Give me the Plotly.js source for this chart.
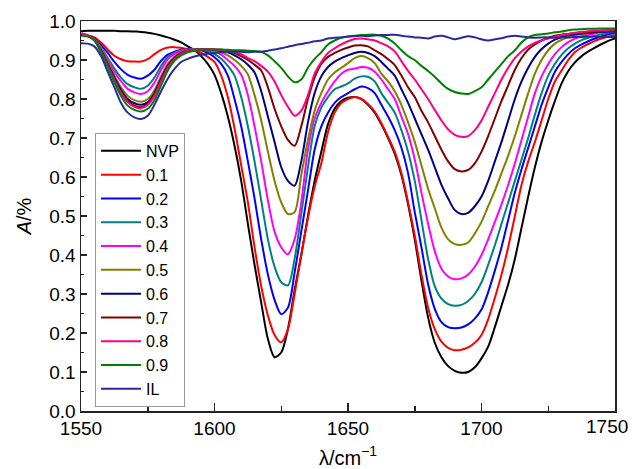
<!DOCTYPE html>
<html>
<head>
<meta charset="utf-8">
<script src="https://cdn.plot.ly/plotly-3.0.1.min.js"></script>
<style>html,body{margin:0;padding:0;background:#fff;}#chart{width:632px;height:469px;}</style>
</head>
<body>
<div id="chart"></div>
<script>
var wavenumber = [
1550,1552.5,1555,1557.5,1560,1562.5,1565,1567.5,1570,1572.5,
1575,1577.5,1580,1582.5,1585,1587.5,1590,1592.5,1595,1597.5,
1600,1602.5,1605,1607.5,1610,1612.5,1615,1617.5,1620,1622.5,
1625,1627.5,1630,1632.5,1635,1637.5,1640,1642.5,1645,1647.5,
1650,1652.5,1655,1657.5,1660,1662.5,1665,1667.5,1670,1672.5,
1675,1677.5,1680,1682.5,1685,1687.5,1690,1692.5,1695,1697.5,
1700,1702.5,1705,1707.5,1710,1712.5,1715,1717.5,1720,1722.5,
1725,1727.5,1730,1732.5,1735,1737.5,1740,1742.5,1745,1747.5,
1750];

var xTickVals = [1550, 1600, 1650, 1700];
var xTickText = ["1550", "1600", "1650", "1700"];
var xLastTick = 1750;

var seriesNames = ["NVP","0.1","0.2","0.3","0.4","0.5","0.6","0.7","0.8","0.9","IL"];
var seriesColors = ["#000000","#ff0000","#0000ff","#008080","#ff00ff","#808000","#000080","#800000","#ff0080","#008000","#2a2aa0"];

var aNVP = [
0.974,0.975,0.975,0.975,0.975,0.975,0.974,0.974,0.973,0.972,
0.970,0.967,0.963,0.958,0.952,0.945,0.935,0.925,0.910,0.890,
0.862,0.815,0.755,0.680,0.590,0.480,0.375,0.278,0.185,0.138,
0.150,0.210,0.310,0.400,0.500,0.590,0.665,0.735,0.775,0.795,
0.803,0.805,0.800,0.785,0.765,0.735,0.700,0.660,0.605,0.530,
0.440,0.335,0.240,0.175,0.138,0.115,0.103,0.098,0.100,0.112,
0.135,0.165,0.215,0.270,0.325,0.390,0.470,0.550,0.625,0.690,
0.745,0.795,0.840,0.872,0.894,0.910,0.922,0.932,0.941,0.949,
0.955];
var a01 = [
0.966,0.963,0.958,0.945,0.927,0.911,0.902,0.897,0.896,0.896,
0.902,0.915,0.926,0.932,0.933,0.931,0.928,0.925,0.918,0.908,
0.895,0.860,0.805,0.725,0.630,0.535,0.420,0.320,0.245,0.195,
0.176,0.210,0.300,0.400,0.495,0.575,0.635,0.715,0.765,0.790,
0.800,0.805,0.800,0.787,0.768,0.738,0.703,0.665,0.610,0.535,
0.450,0.350,0.265,0.210,0.178,0.162,0.156,0.157,0.163,0.175,
0.195,0.235,0.290,0.350,0.420,0.500,0.580,0.640,0.690,0.745,
0.800,0.845,0.873,0.900,0.920,0.932,0.941,0.949,0.955,0.960,
0.964];
var a02 = [
0.966,0.962,0.955,0.938,0.918,0.895,0.876,0.862,0.855,0.852,
0.860,0.875,0.898,0.914,0.921,0.926,0.927,0.927,0.925,0.918,
0.907,0.890,0.860,0.800,0.730,0.640,0.545,0.440,0.350,0.285,
0.248,0.265,0.355,0.460,0.565,0.670,0.730,0.765,0.790,0.805,
0.815,0.825,0.832,0.828,0.815,0.785,0.755,0.720,0.675,0.610,
0.510,0.420,0.325,0.262,0.228,0.215,0.212,0.214,0.222,0.237,
0.260,0.305,0.360,0.420,0.490,0.560,0.620,0.675,0.730,0.785,
0.830,0.870,0.895,0.915,0.930,0.940,0.948,0.955,0.961,0.966,
0.970];
var a03 = [
0.966,0.962,0.953,0.932,0.905,0.878,0.855,0.838,0.830,0.826,
0.834,0.855,0.885,0.908,0.918,0.925,0.927,0.927,0.926,0.923,
0.915,0.903,0.885,0.860,0.805,0.730,0.640,0.540,0.440,0.370,
0.330,0.322,0.390,0.505,0.625,0.730,0.778,0.805,0.825,0.832,
0.840,0.852,0.858,0.857,0.845,0.815,0.790,0.765,0.720,0.665,
0.590,0.490,0.390,0.320,0.288,0.274,0.270,0.272,0.282,0.300,
0.330,0.375,0.425,0.480,0.535,0.590,0.645,0.700,0.760,0.815,
0.860,0.890,0.913,0.930,0.942,0.951,0.957,0.962,0.966,0.970,
0.973];
var a04 = [
0.967,0.962,0.952,0.930,0.900,0.870,0.845,0.826,0.817,0.813,
0.820,0.842,0.875,0.902,0.915,0.923,0.926,0.927,0.927,0.926,
0.922,0.914,0.900,0.885,0.862,0.810,0.730,0.640,0.540,0.460,
0.420,0.402,0.440,0.535,0.670,0.750,0.790,0.820,0.845,0.865,
0.875,0.878,0.882,0.880,0.870,0.850,0.825,0.800,0.755,0.710,
0.645,0.560,0.480,0.410,0.365,0.345,0.338,0.340,0.350,0.370,
0.400,0.440,0.485,0.530,0.580,0.635,0.695,0.755,0.815,0.858,
0.890,0.915,0.933,0.946,0.955,0.961,0.965,0.968,0.971,0.973,
0.975];
var a05 = [
0.967,0.962,0.952,0.928,0.895,0.860,0.830,0.808,0.797,0.793,
0.800,0.822,0.858,0.890,0.908,0.920,0.925,0.927,0.927,0.927,
0.925,0.920,0.912,0.900,0.885,0.863,0.810,0.745,0.665,0.590,
0.535,0.505,0.510,0.605,0.695,0.770,0.815,0.850,0.868,0.880,
0.892,0.905,0.910,0.905,0.892,0.865,0.845,0.820,0.785,0.740,
0.690,0.630,0.570,0.520,0.470,0.440,0.428,0.426,0.432,0.455,
0.485,0.525,0.565,0.610,0.655,0.705,0.760,0.815,0.865,0.900,
0.925,0.942,0.952,0.958,0.963,0.966,0.969,0.972,0.974,0.976,
0.977];
var a06 = [
0.967,0.962,0.951,0.925,0.890,0.855,0.823,0.800,0.789,0.785,
0.792,0.815,0.852,0.885,0.905,0.918,0.924,0.926,0.927,0.927,
0.926,0.924,0.920,0.912,0.902,0.888,0.868,0.820,0.755,0.690,
0.625,0.590,0.578,0.640,0.740,0.815,0.858,0.882,0.896,0.905,
0.912,0.918,0.921,0.918,0.910,0.895,0.878,0.860,0.825,0.790,
0.750,0.710,0.670,0.625,0.580,0.545,0.515,0.505,0.508,0.525,
0.550,0.590,0.640,0.690,0.745,0.800,0.845,0.880,0.908,0.928,
0.942,0.952,0.959,0.963,0.966,0.968,0.970,0.971,0.972,0.973,
0.974];
var a07 = [
0.968,0.963,0.951,0.923,0.887,0.850,0.818,0.795,0.783,0.779,
0.787,0.810,0.848,0.882,0.903,0.917,0.924,0.926,0.927,0.927,
0.927,0.926,0.923,0.918,0.910,0.900,0.888,0.873,0.830,0.775,
0.730,0.695,0.680,0.730,0.800,0.855,0.890,0.908,0.918,0.926,
0.932,0.937,0.938,0.935,0.925,0.915,0.902,0.887,0.860,0.830,
0.805,0.770,0.740,0.705,0.670,0.640,0.620,0.614,0.618,0.635,
0.665,0.705,0.750,0.795,0.835,0.875,0.905,0.927,0.940,0.950,
0.957,0.962,0.965,0.967,0.969,0.971,0.972,0.973,0.974,0.975,
0.976];
var a08 = [
0.968,0.963,0.951,0.922,0.885,0.848,0.815,0.792,0.780,0.776,
0.785,0.808,0.846,0.880,0.902,0.916,0.923,0.926,0.927,0.927,
0.927,0.926,0.924,0.920,0.915,0.905,0.897,0.885,0.870,0.845,
0.810,0.780,0.757,0.770,0.810,0.865,0.895,0.918,0.930,0.940,
0.948,0.954,0.955,0.953,0.950,0.943,0.935,0.922,0.897,0.872,
0.850,0.825,0.800,0.772,0.745,0.722,0.708,0.703,0.705,0.720,
0.745,0.780,0.815,0.850,0.880,0.905,0.922,0.935,0.944,0.950,
0.955,0.960,0.964,0.967,0.970,0.972,0.974,0.975,0.976,0.977,
0.978];
var a09 = [
0.962,0.960,0.950,0.920,0.882,0.843,0.808,0.783,0.772,0.768,
0.775,0.797,0.835,0.873,0.898,0.912,0.920,0.924,0.926,0.927,
0.927,0.927,0.926,0.925,0.925,0.924,0.923,0.921,0.912,0.897,
0.880,0.858,0.843,0.850,0.880,0.903,0.920,0.940,0.950,0.957,
0.960,0.962,0.964,0.965,0.965,0.962,0.955,0.942,0.925,0.910,
0.900,0.885,0.872,0.857,0.840,0.826,0.818,0.814,0.813,0.820,
0.830,0.850,0.870,0.890,0.910,0.925,0.945,0.958,0.964,0.966,
0.968,0.971,0.973,0.976,0.978,0.979,0.980,0.980,0.981,0.981,
0.981];
var aIL = [
0.943,0.942,0.935,0.910,0.870,0.830,0.790,0.765,0.753,0.749,
0.757,0.785,0.820,0.852,0.877,0.895,0.903,0.909,0.913,0.916,
0.918,0.920,0.921,0.921,0.921,0.920,0.921,0.921,0.924,0.927,
0.930,0.934,0.938,0.941,0.944,0.948,0.950,0.955,0.957,0.958,
0.960,0.961,0.962,0.961,0.963,0.964,0.964,0.965,0.962,0.960,
0.958,0.957,0.955,0.960,0.962,0.958,0.953,0.957,0.961,0.958,
0.953,0.950,0.953,0.956,0.960,0.962,0.960,0.958,0.957,0.958,
0.958,0.957,0.958,0.958,0.959,0.959,0.960,0.960,0.959,0.959,
0.959];

var seriesValues = [aNVP,a01,a02,a03,a04,a05,a06,a07,a08,a09,aIL];

var traces = seriesValues.map(function(v,i){
  return {
    x: wavenumber, y: v, name: seriesNames[i], type: 'scatter', mode: 'lines',
    line: {color: seriesColors[i], width: 2, shape: 'spline', smoothing: 0.8}
  };
});

var fam = 'Liberation Sans, Arial, Helvetica, sans-serif';
var tickFont = {family: fam, size: 19, color: '#000'};

var layout = {
  width: 632, height: 469,
  margin: {l: 81, r: 17, t: 21, b: 58},
  paper_bgcolor: '#fff', plot_bgcolor: '#fff',
  showlegend: true,
  legend: {
    x: 0.0262, y: 0.713, xanchor: 'left', yanchor: 'top',
    bgcolor: '#fff', bordercolor: '#999', borderwidth: 1,
    font: {family: fam, size: 16, color: '#000'},
    itemwidth: 40, tracegroupgap: 0
  },
  xaxis: {
    range: [1550, 1750], tickmode: 'array', tickvals: xTickVals, ticktext: xTickText,
    ticks: 'inside', ticklen: 8, tickwidth: 1.5, tickcolor: '#222',
    minor: {tickmode: 'linear', tick0: 1550, dtick: 25, ticks: 'inside', ticklen: 5, tickwidth: 1.5, tickcolor: '#222'},
    showline: true, linecolor: '#222', linewidth: 1.5, mirror: true,
    showgrid: false, zeroline: false,
    tickfont: tickFont,
    title: {text: 'λ/cm<sup>−1</sup>', font: {family: fam, size: 20, color: '#000'}, standoff: 12}
  },
  yaxis: {
    range: [0, 1.0], tick0: 0, dtick: 0.1, tickformat: '.1f',
    ticks: 'inside', ticklen: 6, tickwidth: 1.5, tickcolor: '#222',
    minor: {dtick: 0.05, ticks: 'inside', ticklen: 3, tickwidth: 1.5, tickcolor: '#222'},
    showline: true, linecolor: '#222', linewidth: 1.5, mirror: true,
    showgrid: false, zeroline: false,
    tickfont: tickFont,
    title: {text: '<i>A</i>/%', font: {family: fam, size: 20, color: '#000'}, standoff: 12}
  },
  annotations: [{
    x: xLastTick, y: 0, xref: 'x', yref: 'y', text: String(xLastTick),
    showarrow: false, xanchor: 'center', yanchor: 'top', xshift: -8, yshift: -3,
    font: tickFont
  }]
};

Plotly.newPlot('chart', traces, layout, {staticPlot: true, displayModeBar: false});
</script>
</body>
</html>
